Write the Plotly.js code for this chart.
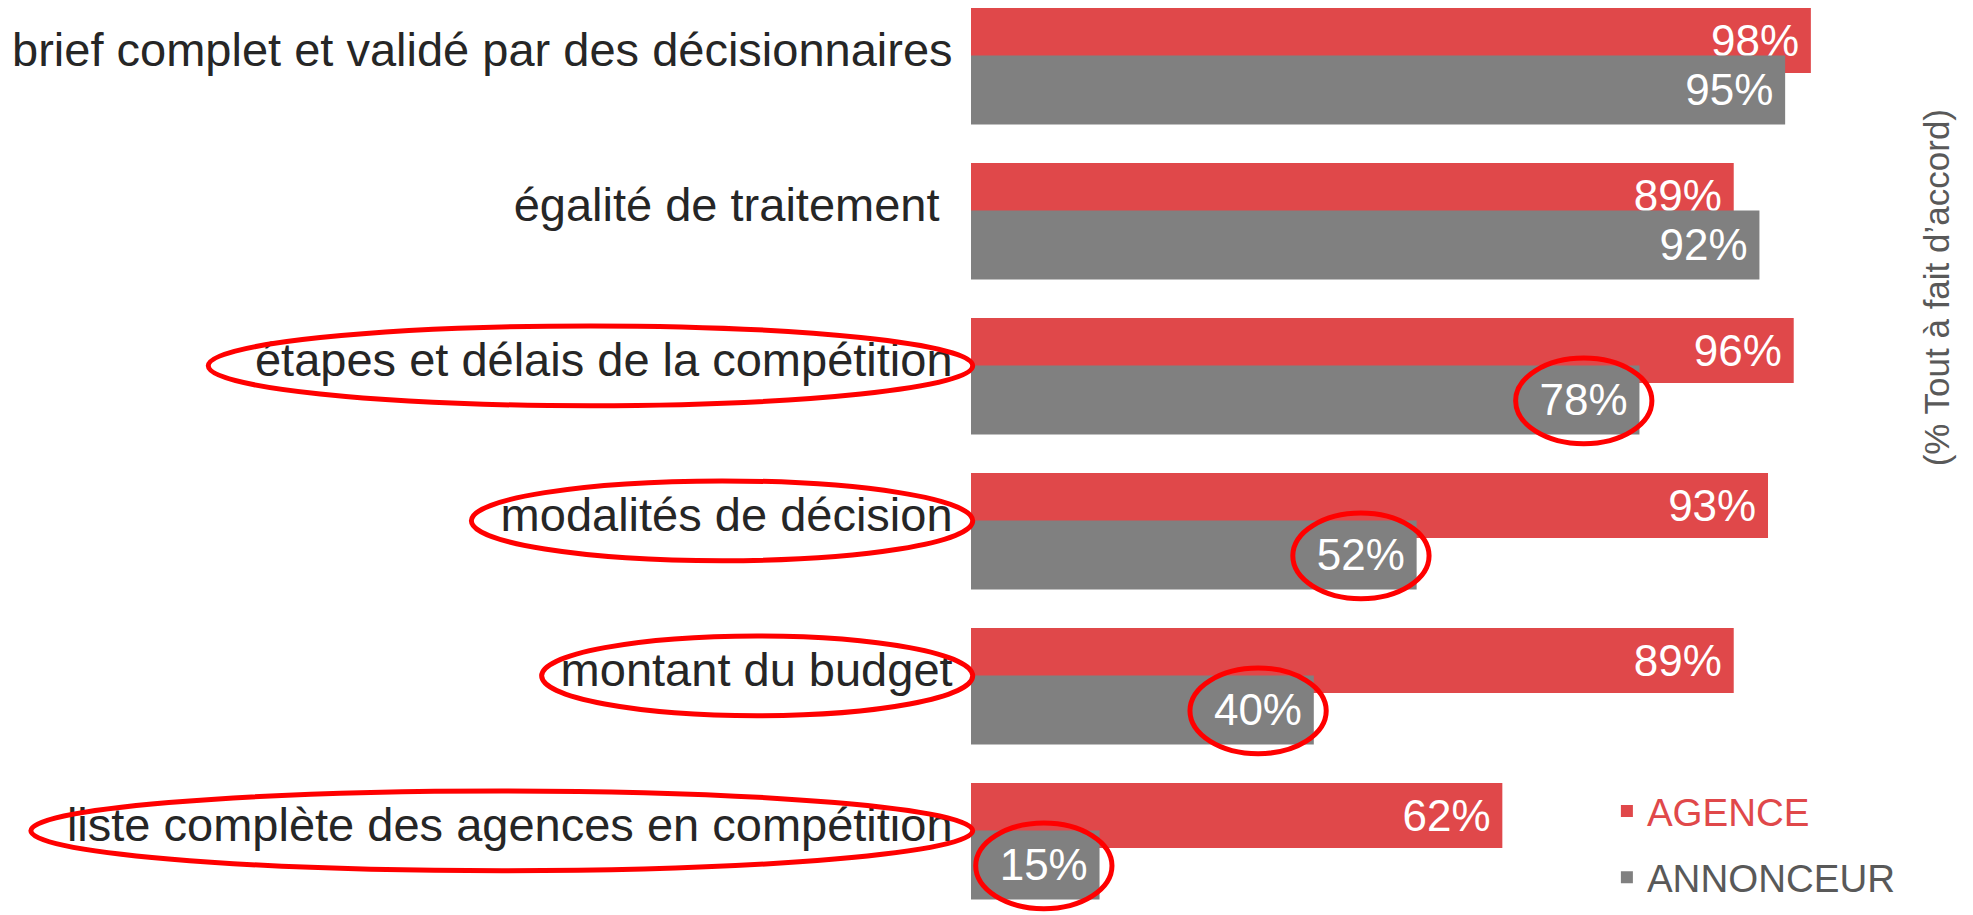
<!DOCTYPE html>
<html>
<head>
<meta charset="utf-8">
<script src="https://cdn.plot.ly/plotly-3.0.1.min.js"></script>
<style>
  html, body { margin: 0; padding: 0; background: #ffffff; }
  #chart { width: 1973px; height: 915px; }
</style>
</head>
<body>
<div id="chart"></div>
<script>
// ---- data ----
const categories = [
  "brief complet et validé par des décisionnaires",
  "égalité de traitement\u00a0",
  "étapes et délais de la compétition",
  "modalités de décision",
  "montant du budget",
  "liste complète des agences en compétition"
];
const agence = [98, 89, 96, 93, 89, 62];
const annonceur = [95, 92, 78, 52, 40, 15];
const seriesNames = ["AGENCE", "ANNONCEUR"];
const axisNote = "(% Tout à fait d’accord)";
const highlighted = [2, 3, 4, 5];   // rows circled in red

// ---- styling ----
const RED = "#E0484A";
const GRAY = "#808080";
const FONT = "Liberation Sans, Arial, sans-serif";

const labelTpl = "%{x}%\u2009";

const traceAgence = {
  type: "bar", orientation: "h",
  y: categories, x: agence,
  name: '<span style="color:' + RED + '">' + seriesNames[0] + '</span>',
  marker: { color: RED },
  width: 0.419, offset: -0.271,
  texttemplate: labelTpl, textposition: "inside", insidetextanchor: "end",
  textangle: 0, constraintext: "none",
  textfont: { family: FONT, size: 44, color: "#ffffff" },
  legendgroup: "a",
  hoverinfo: "x+y"
};
const traceAnnonceur = {
  type: "bar", orientation: "h",
  y: categories, x: annonceur,
  name: '<span style="color:#595959">' + seriesNames[1] + '</span>',
  marker: { color: GRAY },
  width: 0.445, offset: 0.0355,
  texttemplate: labelTpl, textposition: "inside", insidetextanchor: "end",
  textangle: 0, constraintext: "none",
  textfont: { family: FONT, size: 44, color: "#ffffff" },
  legendgroup: "b",
  hoverinfo: "x+y"
};

// red ellipses drawn on the chart
const shapes = [];
const labelLeft = { 2: -0.890, 3: -0.583, 4: -0.501, 5: -1.097 }; // paper x of left edge of text ellipses
highlighted.forEach(i => {
  shapes.push({
    type: "circle", xref: "paper", yref: "y",
    x0: labelLeft[i], x1: 0.002,
    y0: i - 0.22, y1: i + 0.295,
    line: { color: "#FF0000", width: 5 }
  });
  const cx = annonceur[i] - 6.5;
  shapes.push({
    type: "circle", xref: "x", yref: "y",
    x0: cx - 7.95, x1: cx + 7.95,
    y0: i - 0.013, y1: i + 0.54,
    line: { color: "#FF0000", width: 5 }
  });
});

const layout = {
  width: 1973, height: 915,
  margin: { l: 971, r: 145, t: 0, b: 0, pad: 0 },
  paper_bgcolor: "#ffffff", plot_bgcolor: "#ffffff",
  barmode: "overlay",
  showlegend: true,
  legend: {
    x: 0.742, y: 0.148, xanchor: "left", yanchor: "top",
    traceorder: "grouped", tracegroupgap: 13,
    font: { family: FONT, size: 38.5, color: "#595959" },
    bgcolor: "rgba(0,0,0,0)", borderwidth: 0
  },
  xaxis: {
    range: [0, 100], autorange: false,
    showgrid: false, zeroline: false, showline: false,
    showticklabels: false, ticks: "", fixedrange: true
  },
  yaxis: {
    type: "category",
    categoryorder: "array", categoryarray: categories,
    range: [5.5806, -0.3226], autorange: false,
    showgrid: false, zeroline: false, showline: false,
    ticks: "outside", ticklen: 8, tickcolor: "rgba(0,0,0,0)",
    tickfont: { family: FONT, size: 47, color: "#262626" },
    fixedrange: true
  },
  shapes: shapes,
  annotations: [{
    text: axisNote, xref: "paper", yref: "paper",
    x: 1.126, y: 0.686, xanchor: "center", yanchor: "middle",
    textangle: -90, showarrow: false,
    font: { family: FONT, size: 35, color: "#595959" }
  }]
};

Plotly.newPlot("chart", [traceAgence, traceAnnonceur], layout, { displayModeBar: false, staticPlot: true });
</script>
</body>
</html>
